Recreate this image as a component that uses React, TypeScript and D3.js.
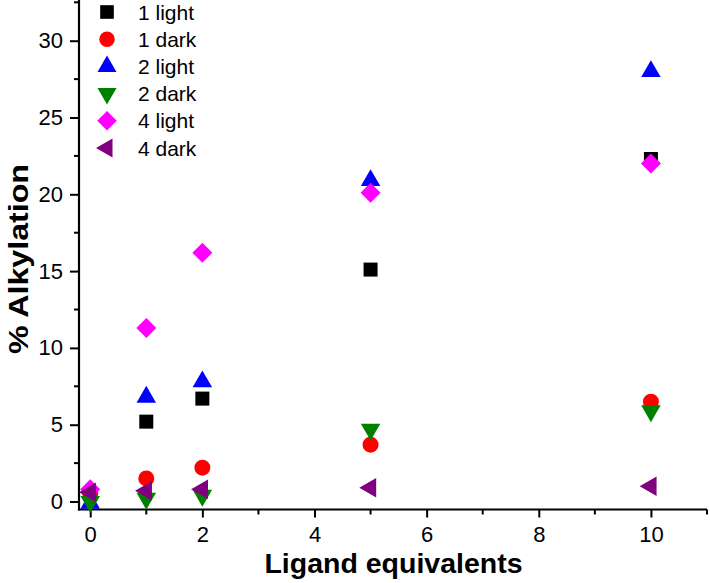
import React, { useEffect, useRef } from "react";
import * as d3 from "d3";

// data
const equivalents = [0, 1, 2, 5, 10];
const light1 = [0.5, 5.2, 6.7, 15.1, 22.3];
const dark1 = [0.5, 1.5, 2.2, 3.7, 6.5];
const light2 = [-0.1, 6.8, 7.8, 20.9, 28.0];
const dark2 = [0.0, 0.2, 0.4, 4.7, 5.9];
const light4 = [0.8, 11.3, 16.2, 20.1, 22.0];
const dark4 = [0.6, 0.7, 0.8, 0.9, 1.0];

const seriesNames = ["1 light", "1 dark", "2 light", "2 dark", "4 light", "4 dark"];
const xTicks = [0, 2, 4, 6, 8, 10];
const xMinor = [1, 3, 5, 7, 9, 11];
const yTicks = [0, 5, 10, 15, 20, 25, 30];
const yMinor = [2.5, 7.5, 12.5, 17.5, 22.5, 27.5, 32.5];

export default function App() {
  const svgRef = useRef<SVGSVGElement>(null);

  useEffect(() => {
    const w = 710;
    const h = 583;
    const svg = d3.select(svgRef.current);
    svg.selectAll("*").remove();
    svg.attr("width", w).attr("height", h).style("background", "#fff");

    const font = "Liberation Sans, Arial, sans-serif";

    const x = d3.scaleLinear().domain([-0.2, 11]).range([79, 707]);
    const y = d3.scaleLinear().domain([-0.52, 32.65]).range([509.5, 0]);

    const values = [light1, dark1, light2, dark2, light4, dark4];
    const colors = ["#000000", "#ff0000", "#0000ff", "#008000", "#ff00ff", "#800080"];
    const shapes = [
      { type: d3.symbolSquare, size: 196, rot: 0 },
      { type: d3.symbolCircle, size: 200, rot: 0 },
      { type: d3.symbolTriangle, size: 165, rot: 0 },
      { type: d3.symbolTriangle, size: 165, rot: 180 },
      { type: d3.symbolSquare, size: 200, rot: 45 },
      { type: d3.symbolTriangle, size: 165, rot: -90 },
    ];

    // axes
    const xAxis = d3.axisBottom(x).tickValues(xTicks).tickSize(8).tickSizeOuter(0).tickPadding(9);
    const gx = svg.append("g").attr("transform", `translate(0, ${y.range()[0]})`).call(xAxis);
    gx.select(".domain").attr("stroke-width", 2.2).attr("d", `M${x.range()[0] - 1},0H${x.range()[1]}`);
    gx.selectAll(".tick line").attr("stroke-width", 2);
    gx.selectAll(".tick text").attr("font-family", font).attr("font-size", 22).attr("fill", "#000");
    gx.selectAll(".minor")
      .data(xMinor)
      .join("line")
      .attr("x1", (d) => x(d))
      .attr("x2", (d) => x(d))
      .attr("y1", 0)
      .attr("y2", 5)
      .attr("stroke", "#000")
      .attr("stroke-width", 2);

    const yAxis = d3.axisLeft(y).tickValues(yTicks).tickSize(9).tickSizeOuter(0).tickPadding(7);
    const gy = svg.append("g").attr("transform", `translate(${x.range()[0]}, 0)`).call(yAxis);
    gy.select(".domain").attr("stroke-width", 2.2).attr("d", `M0,${y.range()[0] + 1}V0`);
    gy.selectAll(".tick line").attr("stroke-width", 2);
    gy.selectAll(".tick text").attr("font-family", font).attr("font-size", 22).attr("fill", "#000");
    gy.selectAll(".minor")
      .data(yMinor)
      .join("line")
      .attr("x1", 0)
      .attr("x2", -5)
      .attr("y1", (d) => y(d))
      .attr("y2", (d) => y(d))
      .attr("stroke", "#000")
      .attr("stroke-width", 2);

    // axis titles
    svg.append("text")
      .attr("x", 393.5)
      .attr("y", 573)
      .attr("text-anchor", "middle")
      .attr("font-family", font)
      .attr("font-weight", "bold")
      .attr("font-size", 28.5)
      .text("Ligand equivalents");

    svg.append("text")
      .attr("transform", "translate(28, 259) rotate(-90)")
      .attr("text-anchor", "middle")
      .attr("font-family", font)
      .attr("font-weight", "bold")
      .attr("font-size", 28)
      .attr("textLength", 190)
      .attr("lengthAdjust", "spacingAndGlyphs")
      .text("% Alkylation");

    // points
    values.forEach((vals, i) => {
      const s = shapes[i];
      const sym = d3.symbol().type(s.type).size(s.size);
      svg.append("g")
        .selectAll("path")
        .data(vals)
        .join("path")
        .attr("d", sym)
        .attr("fill", colors[i])
        .attr("transform", (d, j) => `translate(${x(equivalents[j])}, ${y(d)}) rotate(${s.rot})`);
    });

    // legend
    const legend = svg.append("g");
    seriesNames.forEach((name, i) => {
      const s = shapes[i];
      const ly = 12 + i * 27.2;
      legend.append("path")
        .attr("d", d3.symbol().type(s.type).size(s.size * 0.95)())
        .attr("fill", colors[i])
        .attr("transform", `translate(107, ${ly}) rotate(${s.rot})`);
      legend.append("text")
        .attr("x", 138)
        .attr("y", ly + 7.5)
        .attr("font-family", font)
        .attr("font-size", 21)
        .text(name);
    });
  }, []);

  return (
    <div style={{ position: "absolute", left: 0, top: 0 }}>
      <svg ref={svgRef}></svg>
    </div>
  );
}
